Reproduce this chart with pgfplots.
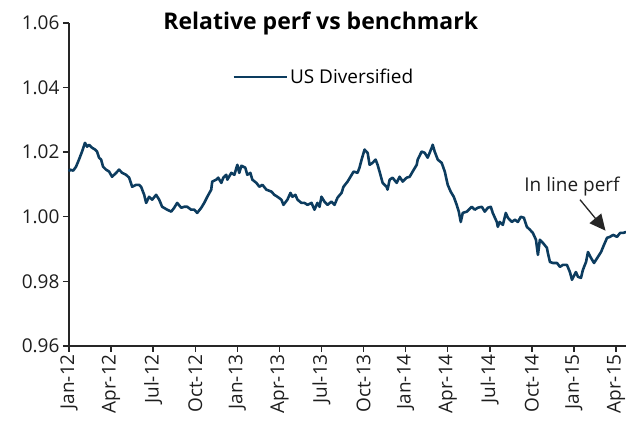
\documentclass[border=0pt]{standalone}
\usepackage{pgfplots}
\pgfplotsset{compat=1.18}
\usepackage{fontspec}
\setmainfont{Open Sans}
\usetikzlibrary{arrows.meta}
\definecolor{navy}{RGB}{12,60,95}
\definecolor{txt}{RGB}{30,30,30}
\begin{document}
\begin{tikzpicture}[font=\fontsize{19}{22}\selectfont\color{txt}]
\useasboundingbox (0,0) rectangle (626pt,425pt);
\begin{axis}[
  at={(69pt,79pt)}, anchor=origin,
  width=557pt, height=323pt, scale only axis,
  xmin=0, xmax=39.71, ymin=0.96, ymax=1.06,
  axis lines=left, axis line style={-, line width=1.4pt, color=black!85},
  tick style={line width=1.4pt, color=black!85},
  tick align=outside, major tick length=6pt,
  xtick={0,3,...,39},
  xticklabels={Jan-12,Apr-12,Jul-12,Oct-12,Jan-13,Apr-13,Jul-13,Oct-13,Jan-14,Apr-14,Jul-14,Oct-14,Jan-15,Apr-15},
  xticklabel style={rotate=90, anchor=east, inner sep=2pt},
  ytick={0.96,0.98,...,1.061},
  yticklabel style={/pgf/number format/.cd, fixed, fixed zerofill, precision=2, assume math mode=true},
  /pgf/number format/assume math mode=true,
  clip=false,
  legend style={draw=none, fill=none, at={(0.293,0.833)}, anchor=west, inner sep=0pt, font=\fontsize{19}{22}\selectfont},
  legend image code/.code={\draw[#1] (0pt,0pt) -- (53pt,0pt);},
  legend cell align=left,
]
\addplot[navy, line width=2.6pt, line join=round] coordinates {
(0.00,1.0140)(0.07,1.0146)(0.30,1.0143)(0.50,1.0155)(0.71,1.0177)(0.93,1.0202)(1.14,1.0229)(1.29,1.0217)(1.43,1.0223)(1.64,1.0214)(1.86,1.0208)(2.00,1.0202)(2.14,1.0183)(2.29,1.0177)(2.43,1.0155)(2.64,1.0146)(2.86,1.0140)(3.07,1.0124)(3.36,1.0136)(3.57,1.0146)(3.79,1.0136)(4.07,1.0130)(4.29,1.0121)(4.50,1.0093)(4.79,1.0099)(5.00,1.0099)(5.14,1.0093)(5.36,1.0068)(5.50,1.0043)(5.71,1.0062)(5.93,1.0053)(6.21,1.0068)(6.43,1.0053)(6.64,1.0031)(7.00,1.0022)(7.29,1.0016)(7.50,1.0028)(7.71,1.0043)(8.00,1.0028)(8.21,1.0031)(8.43,1.0031)(8.71,1.0022)(8.93,1.0022)(9.14,1.0012)(9.43,1.0028)(9.64,1.0043)(9.86,1.0062)(10.14,1.0084)(10.21,1.0109)(10.50,1.0115)(10.64,1.0121)(10.86,1.0105)(11.00,1.0121)(11.21,1.0130)(11.29,1.0115)(11.57,1.0136)(11.79,1.0130)(12.00,1.0161)(12.14,1.0136)(12.29,1.0158)(12.57,1.0152)(12.71,1.0130)(12.93,1.0136)(13.07,1.0115)(13.36,1.0105)(13.57,1.0093)(13.79,1.0099)(14.07,1.0084)(14.43,1.0078)(14.64,1.0068)(14.86,1.0062)(15.14,1.0053)(15.29,1.0037)(15.57,1.0053)(15.79,1.0074)(15.93,1.0062)(16.14,1.0068)(16.29,1.0053)(16.57,1.0043)(16.79,1.0043)(17.00,1.0037)(17.29,1.0043)(17.50,1.0022)(17.71,1.0043)(17.86,1.0031)(18.00,1.0062)(18.21,1.0047)(18.43,1.0037)(18.71,1.0047)(18.93,1.0037)(19.14,1.0059)(19.43,1.0074)(19.57,1.0093)(19.86,1.0109)(20.07,1.0124)(20.29,1.0140)(20.57,1.0136)(20.71,1.0152)(20.86,1.0177)(21.07,1.0208)(21.29,1.0198)(21.43,1.0161)(21.64,1.0167)(21.86,1.0177)(22.00,1.0161)(22.14,1.0140)(22.36,1.0105)(22.64,1.0093)(22.71,1.0084)(22.86,1.0115)(23.07,1.0121)(23.36,1.0105)(23.57,1.0124)(23.79,1.0109)(24.07,1.0121)(24.29,1.0124)(24.50,1.0140)(24.79,1.0161)(24.86,1.0177)(25.14,1.0202)(25.36,1.0198)(25.57,1.0183)(25.86,1.0214)(25.93,1.0223)(26.07,1.0202)(26.29,1.0177)(26.57,1.0167)(26.79,1.0140)(27.00,1.0099)(27.21,1.0078)(27.43,1.0062)(27.64,1.0037)(27.79,1.0016)(27.93,0.9984)(28.07,1.0012)(28.36,1.0016)(28.71,1.0031)(28.93,1.0022)(29.14,1.0028)(29.43,1.0031)(29.64,1.0016)(29.86,1.0028)(30.07,1.0031)(30.21,1.0012)(30.50,0.9984)(30.57,0.9969)(30.71,0.9984)(30.93,0.9975)(31.14,1.0012)(31.29,0.9997)(31.57,0.9984)(31.79,0.9991)(32.00,0.9984)(32.21,1.0000)(32.43,0.9997)(32.64,0.9969)(32.86,0.9960)(33.07,0.9950)(33.29,0.9929)(33.43,0.9882)(33.57,0.9929)(33.79,0.9919)(34.07,0.9904)(34.14,0.9888)(34.29,0.9860)(34.50,0.9857)(34.79,0.9857)(35.00,0.9845)(35.21,0.9851)(35.50,0.9851)(35.71,0.9829)(35.86,0.9805)(36.14,0.9829)(36.29,0.9814)(36.50,0.9811)(36.64,0.9836)(36.86,0.9860)(37.00,0.9891)(37.21,0.9873)(37.43,0.9857)(37.71,0.9876)(37.93,0.9891)(38.14,0.9913)(38.36,0.9935)(38.57,0.9938)(38.79,0.9944)(39.07,0.9938)(39.29,0.9950)(39.50,0.9950)(39.71,0.9953)
};
\addlegendentry{US Diversified}
\node[font=\fontsize{23}{26}\selectfont\bfseries] at (rel axis cs:0.452,1.0) {Relative perf vs benchmark};
\node at (axis cs:35.86,1.0093) {In line perf};
\draw[line width=1.3pt, black!85, -{Triangle[length=16pt,width=15pt]}] (axis cs:36.43,1.0053) -- (axis cs:38.25,0.9957);
\end{axis}
\end{tikzpicture}
\end{document}
